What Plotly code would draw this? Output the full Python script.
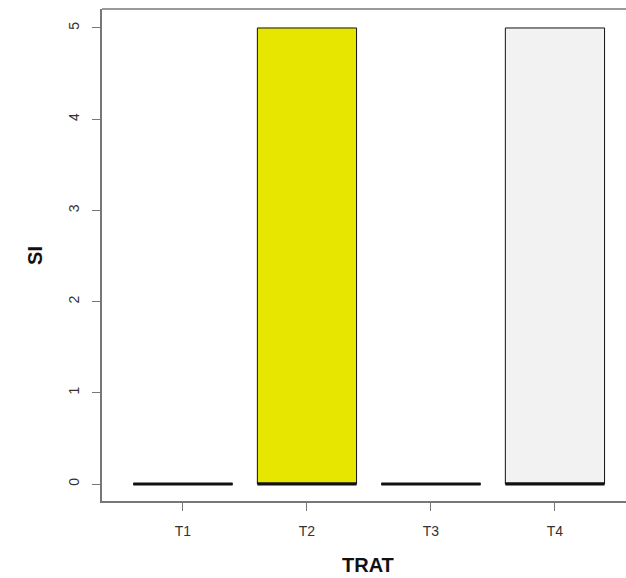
import plotly.graph_objects as go

categories = ["T1", "T2", "T3", "T4"]
positions = [1, 2, 3, 4]
q1 = [0, 0, 0, 0]
median = [0, 0, 0, 0]
q3 = [0, 5, 0, 5]
lower = [0, 0, 0, 0]
upper = [0, 5, 0, 5]
fill_colors = ["#00A600", "#E6E600", "#ECB176", "#F2F2F2"]
y_ticks = [0, 1, 2, 3, 4, 5]
box_width = 0.8

fig = go.Figure()
for i, cat in enumerate(categories):
    fig.add_trace(go.Box(
        x=[positions[i]], q1=[q1[i]], median=[median[i]], q3=[q3[i]],
        lowerfence=[lower[i]], upperfence=[upper[i]],
        width=box_width, whiskerwidth=0, fillcolor=fill_colors[i],
        line=dict(color="#111111", width=1), boxpoints=False,
        showlegend=False, name=cat, hoverinfo="skip"))
    fig.add_trace(go.Scatter(
        x=[positions[i] - box_width / 2, positions[i] + box_width / 2],
        y=[median[i], median[i]], mode="lines",
        line=dict(color="#111111", width=3), showlegend=False, hoverinfo="skip"))

axis_col = "#777777"
fig.update_layout(
    width=626, height=578,
    margin=dict(l=102, r=0, t=9, b=77, autoexpand=False),
    paper_bgcolor="white", plot_bgcolor="white",
    font=dict(family="Liberation Sans, Arial, sans-serif", color="#333333"),
    xaxis=dict(range=[0.347, 4.573], tickvals=positions, ticktext=categories,
               showgrid=False, zeroline=False, showline=True, linecolor=axis_col,
               linewidth=1.5, ticks="outside", ticklen=8, tickcolor=axis_col,
               tickfont=dict(size=14), ticklabelstandoff=8),
    yaxis=dict(range=[-0.186, 5.208], tickvals=y_ticks, showgrid=False,
               zeroline=False, showline=True, linecolor=axis_col, linewidth=1.5,
               ticks="outside", ticklen=8, tickcolor=axis_col, tickangle=-90,
               tickfont=dict(size=14), ticklabelstandoff=8),
    shapes=[dict(type="line", xref="paper", yref="paper", x0=0, x1=1, y0=1, y1=1,
                 line=dict(color=axis_col, width=1.5))],
    annotations=[
        dict(text="<b>SI</b>", xref="paper", yref="paper", x=-0.128, y=0.5,
             textangle=-90, showarrow=False, font=dict(size=20, color="#111111"),
             xanchor="center", yanchor="middle"),
        dict(text="<b>TRAT</b>", xref="paper", yref="paper", x=0.508, y=-0.13,
             showarrow=False, font=dict(size=20, color="#111111"),
             xanchor="center", yanchor="middle"),
    ],
)
fig.write_html("out.html", config={"displayModeBar": False},
               post_script="document.body.style.margin='0';document.body.style.padding='0';")
